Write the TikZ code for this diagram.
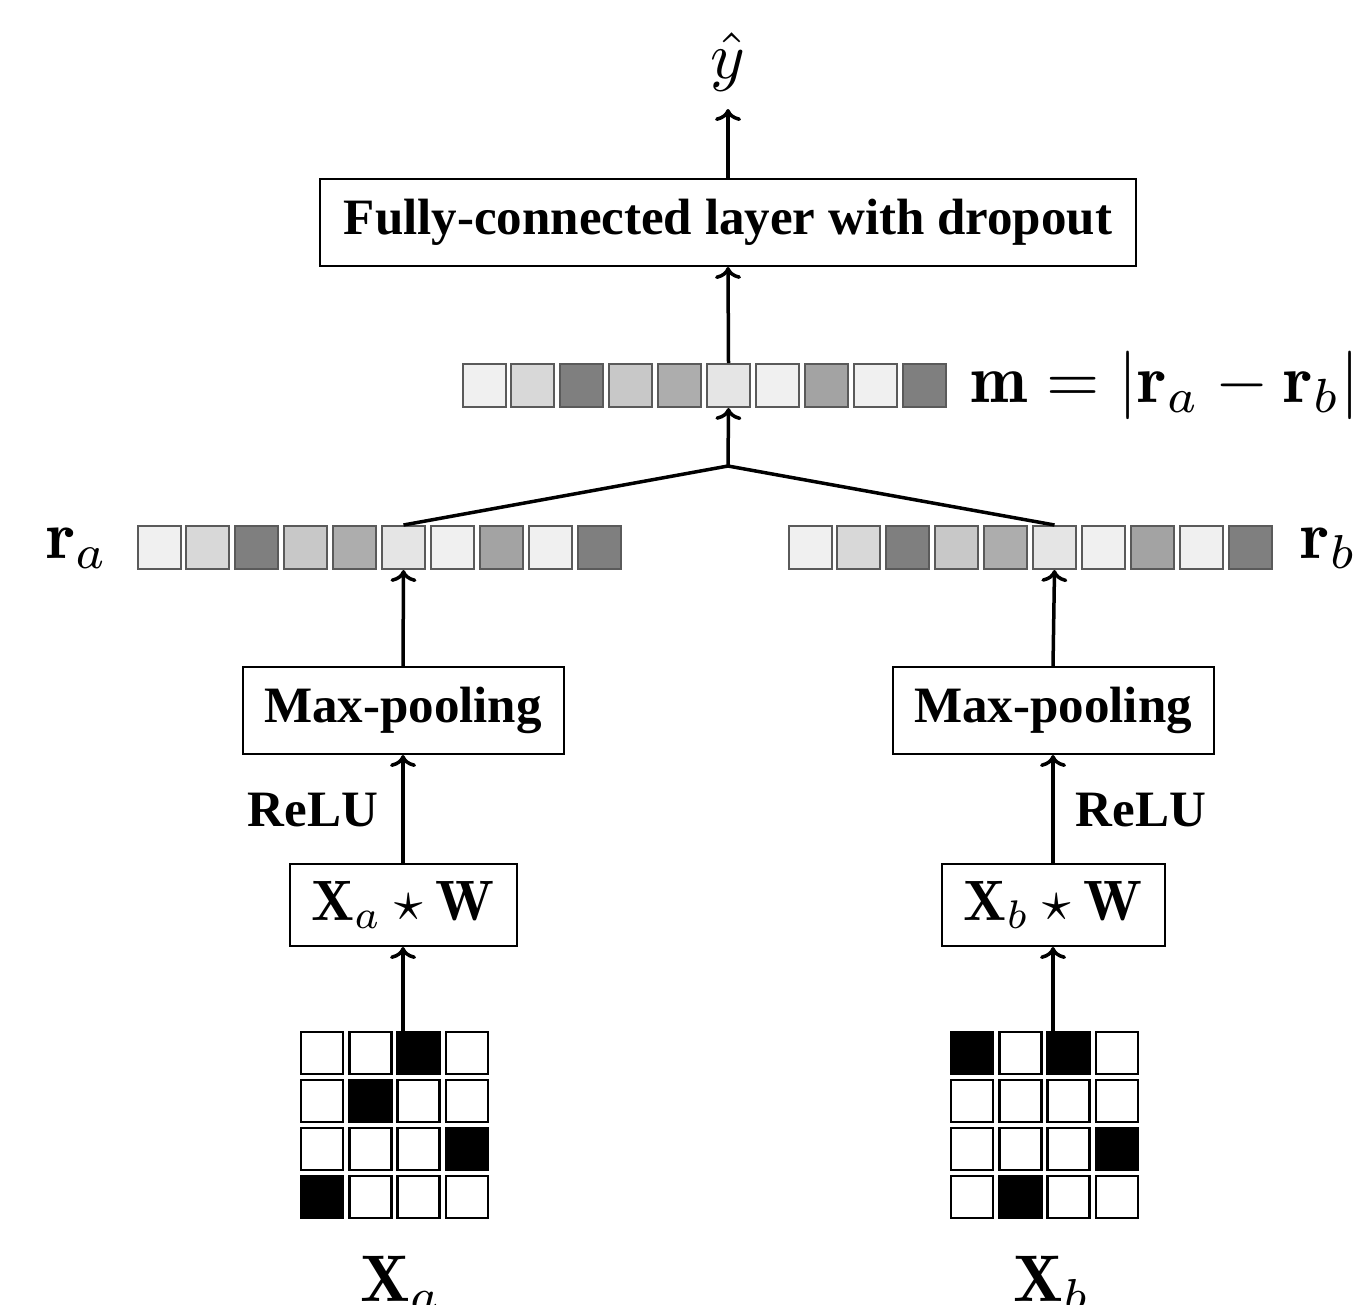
\documentclass[tikz,border=0pt]{standalone}
\usepackage{fontspec}
\newfontfamily\tnr{Liberation Serif}
\usetikzlibrary{arrows.meta}
\definecolor{c1}{HTML}{F0F0F0}
\definecolor{c2}{HTML}{D8D8D8}
\definecolor{c3}{HTML}{7F7F7F}
\definecolor{c4}{HTML}{C8C8C8}
\definecolor{c5}{HTML}{ADADAD}
\definecolor{c6}{HTML}{E5E5E5}
\definecolor{c8}{HTML}{A3A3A3}
\definecolor{cb}{HTML}{5A5A5A}
\newcommand{\scmath}[2]{\scalebox{#1}{$#2$}}
\tikzset{
  box/.style={draw, line width=2pt, inner sep=0pt, font=\tnr\bfseries\fontsize{51}{60}\selectfont},
  vcell/.style={draw=cb, line width=2pt, minimum size=43pt, inner sep=0pt},
  gcell/.style={draw=black, line width=2.5pt, minimum size=42pt, inner sep=0pt, fill=white},
  arr/.style={-{Computer Modern Rightarrow[length=12pt,width=26pt]}, line width=3.5pt},
  mlab/.style={inner sep=0pt, font=\normalsize},
  tlab/.style={inner sep=0pt, font=\tnr\bfseries\fontsize{51}{60}\selectfont}
}
\begin{document}
\begin{tikzpicture}[x=1pt,y=-1pt]
\useasboundingbox (0,0) rectangle (1357,1304);
% vectors
\foreach \c [count=\i from 0] in {c1,c2,c3,c4,c5,c6,c1,c8,c1,c3} {
  \node[vcell, fill=\c] (m\i) at ({484+\i*48.9},385.5) {};
  \node[vcell, fill=\c] (ra\i) at ({159+\i*48.9},547.5) {};
  \node[vcell, fill=\c] (rb\i) at ({810+\i*48.9},547.5) {};
}
% labels
\node[mlab] (yhat) at (728,62) {\scmath{6.6}{\hat{y}}};
\coordinate (yt) at (728,109);
\node[mlab, anchor=west] (mlabel) at (970,385) {\scmath{6.85}{\mathbf{m} = \left|\mathbf{r}_a - \mathbf{r}_b\right|}};
\node[mlab] (ralabel) at (77,548) {\scmath{6.8}{\mathbf{r}_a}};
\node[mlab] (rblabel) at (1329,548) {\scmath{6.8}{\mathbf{r}_b}};
% boxes
\node[box, minimum width=816pt, minimum height=87pt] (fc) at (728,222.5) {Fully-connected layer with dropout};
\node[box, minimum width=321pt, minimum height=87pt] (mpa) at (403,710.5) {Max-pooling};
\node[box, minimum width=321pt, minimum height=87pt] (mpb) at (1053,710.5) {Max-pooling};
\node[box, font=\normalsize, minimum width=227pt, minimum height=82pt] (cva) at (403,905) {\scmath{5.7}{\mathbf{X}_a \star \mathbf{W}}};
\node[box, font=\normalsize, minimum width=223pt, minimum height=82pt] (cvb) at (1053,905) {\scmath{5.7}{\mathbf{X}_b \star \mathbf{W}}};
\node[tlab] (relua) at (313,810) {ReLU};
\node[tlab] (relub) at (1141,810) {ReLU};
% grids
\foreach \r in {0,...,3} \foreach \c in {0,...,3} {
  \node[gcell] (ga-\r-\c) at ({322+\c*48.3},{1053+\r*48}) {};
  \node[gcell] (gb-\r-\c) at ({972+\c*48.3},{1053+\r*48}) {};
}
\foreach \r/\c in {0/2,1/1,2/3,3/0}
  \fill[black] (ga-\r-\c.north west) rectangle (ga-\r-\c.south east);
\foreach \r/\c in {0/0,0/2,2/3,3/1}
  \fill[black] (gb-\r-\c.north west) rectangle (gb-\r-\c.south east);
\node[mlab] (xa) at (401,1284) {\scmath{6.6}{\mathbf{X}_a}};
\node[mlab] (xb) at (1052,1284) {\scmath{6.6}{\mathbf{X}_b}};
\coordinate (gat) at (403,1031);
\coordinate (gbt) at (1053,1031);
% connectors
\coordinate (j) at (728,466);
\draw[line width=3.5pt] (ra5.north) -- (j) -- (rb5.north);
\draw[arr] (j) -- (m5.south);
\draw[arr] (m5.north) -- (fc.south);
\draw[arr] (fc.north) -- (yt);
\draw[arr] (gat) -- (cva.south);
\draw[arr] (gbt) -- (cvb.south);
\draw[arr] (cva.north) -- (mpa.south);
\draw[arr] (cvb.north) -- (mpb.south);
\draw[arr] (mpa.north) -- (ra5.south);
\draw[arr] (mpb.north) -- (rb5.south);
\end{tikzpicture}
\end{document}
